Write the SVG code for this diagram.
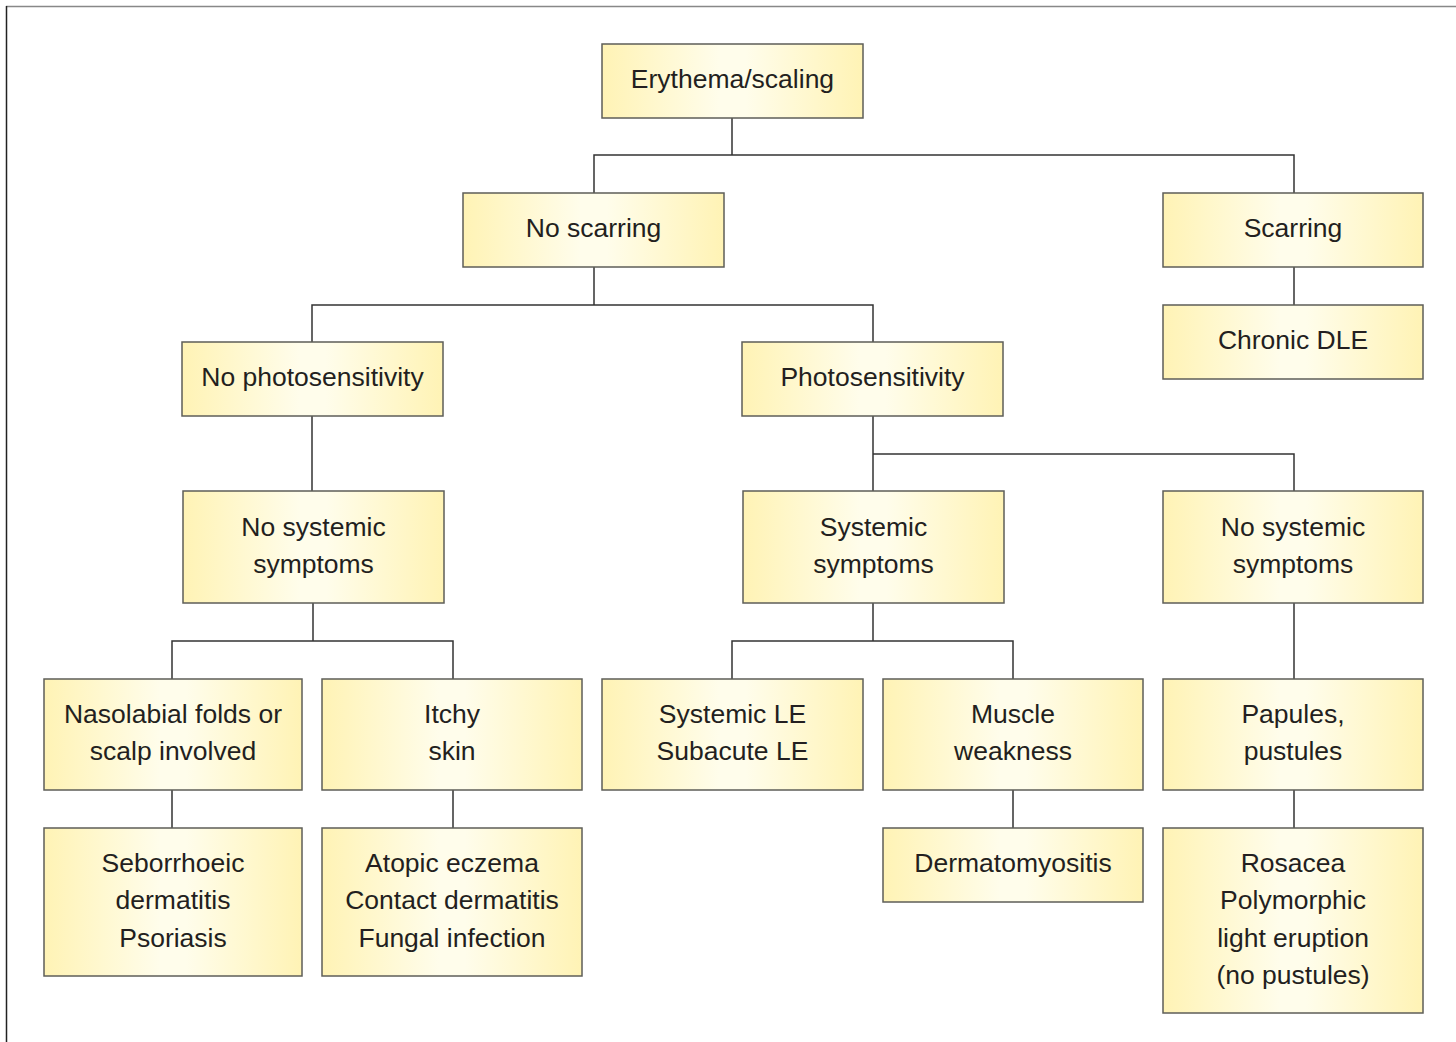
<svg xmlns="http://www.w3.org/2000/svg" width="1456" height="1042" viewBox="0 0 1456 1042">
<defs>
<linearGradient id="g" x1="0" y1="0" x2="1" y2="0">
<stop offset="0" stop-color="#fff3b5"/>
<stop offset="0.45" stop-color="#fffdeb"/>
<stop offset="0.55" stop-color="#fffdeb"/>
<stop offset="1" stop-color="#fff3b5"/>
</linearGradient>
<style>
.b{fill:url(#g);stroke:#5e5e58;stroke-width:1.5}
.t{font-family:"Liberation Sans",Arial,sans-serif;font-size:26.5px;fill:#231f20;text-anchor:middle}
.c{fill:none;stroke:#333;stroke-width:1.5}
</style>
</defs>
<rect width="1456" height="1042" fill="#fff"/>
<line x1="6" y1="6.5" x2="1456" y2="6.5" stroke="#888" stroke-width="1.5"/>
<line x1="6.5" y1="6" x2="6.5" y2="1042" stroke="#222" stroke-width="1.5"/>
<g id="connectors" class="c">
<path class="c" d="M732 118V155M594 193V155H1294V193"/>
<path class="c" d="M594 267V305M312 342V305H873V342"/>
<path class="c" d="M1294 267V305"/>
<path class="c" d="M312 416V491"/>
<path class="c" d="M873 416V491M873 454H1294V491"/>
<path class="c" d="M313 603V641M172 679V641H453V679"/>
<path class="c" d="M873 603V641M732 679V641H1013V679"/>
<path class="c" d="M1294 603V679"/>
<path class="c" d="M172 790V828M453 790V828M1013 790V828M1294 790V828"/>
</g>
<g id="n1"><rect class="b" x="602" y="44" width="261" height="74"/><text class="t" x="732.5" y="88">Erythema/scaling</text></g>
<g id="n2"><rect class="b" x="463" y="193" width="261" height="74"/><text class="t" x="593.5" y="237">No scarring</text></g>
<g id="n3"><rect class="b" x="1163" y="193" width="260" height="74"/><text class="t" x="1293" y="237">Scarring</text></g>
<g id="n4"><rect class="b" x="1163" y="305" width="260" height="74"/><text class="t" x="1293" y="349">Chronic DLE</text></g>
<g id="n5"><rect class="b" x="182" y="342" width="261" height="74"/><text class="t" x="312.5" y="386">No photosensitivity</text></g>
<g id="n6"><rect class="b" x="742" y="342" width="261" height="74"/><text class="t" x="872.5" y="386">Photosensitivity</text></g>
<g id="n7"><rect class="b" x="183" y="491" width="261" height="112"/><text class="t" x="313.5" y="536">No systemic</text><text class="t" x="313.5" y="573">symptoms</text></g>
<g id="n8"><rect class="b" x="743" y="491" width="261" height="112"/><text class="t" x="873.5" y="536">Systemic</text><text class="t" x="873.5" y="573">symptoms</text></g>
<g id="n9"><rect class="b" x="1163" y="491" width="260" height="112"/><text class="t" x="1293" y="536">No systemic</text><text class="t" x="1293" y="573">symptoms</text></g>
<g id="n10"><rect class="b" x="44" y="679" width="258" height="111"/><text class="t" x="173" y="723">Nasolabial folds or</text><text class="t" x="173" y="760">scalp involved</text></g>
<g id="n11"><rect class="b" x="322" y="679" width="260" height="111"/><text class="t" x="452" y="723">Itchy</text><text class="t" x="452" y="760">skin</text></g>
<g id="n12"><rect class="b" x="602" y="679" width="261" height="111"/><text class="t" x="732.5" y="723">Systemic LE</text><text class="t" x="732.5" y="760">Subacute LE</text></g>
<g id="n13"><rect class="b" x="883" y="679" width="260" height="111"/><text class="t" x="1013" y="723">Muscle</text><text class="t" x="1013" y="760">weakness</text></g>
<g id="n14"><rect class="b" x="1163" y="679" width="260" height="111"/><text class="t" x="1293" y="723">Papules,</text><text class="t" x="1293" y="760">pustules</text></g>
<g id="n15"><rect class="b" x="44" y="828" width="258" height="148"/><text class="t" x="173" y="872">Seborrhoeic</text><text class="t" x="173" y="909">dermatitis</text><text class="t" x="173" y="947">Psoriasis</text></g>
<g id="n16"><rect class="b" x="322" y="828" width="260" height="148"/><text class="t" x="452" y="872">Atopic eczema</text><text class="t" x="452" y="909">Contact dermatitis</text><text class="t" x="452" y="947">Fungal infection</text></g>
<g id="n17"><rect class="b" x="883" y="828" width="260" height="74"/><text class="t" x="1013" y="872">Dermatomyositis</text></g>
<g id="n18"><rect class="b" x="1163" y="828" width="260" height="185"/><text class="t" x="1293" y="872">Rosacea</text><text class="t" x="1293" y="909">Polymorphic</text><text class="t" x="1293" y="947">light eruption</text><text class="t" x="1293" y="984">(no pustules)</text></g>
</svg>
